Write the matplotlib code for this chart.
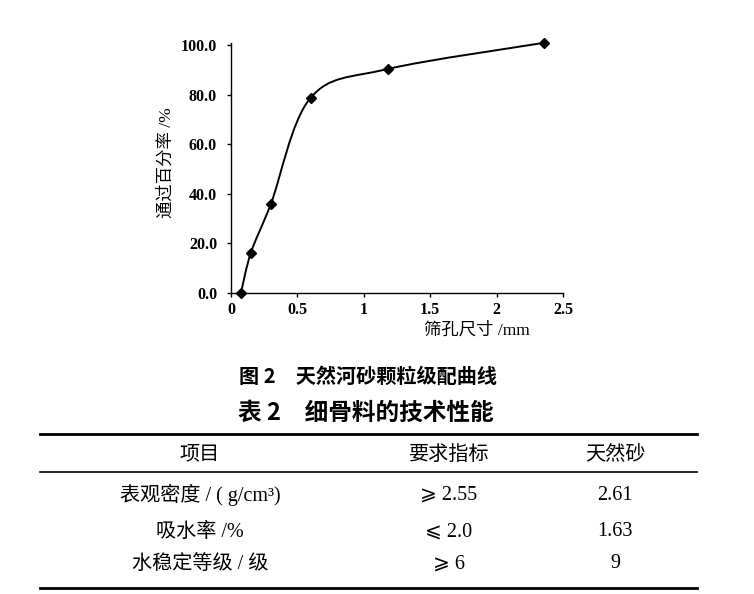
import numpy as np
import matplotlib
matplotlib.use("Agg")
import matplotlib.pyplot as plt
from matplotlib.path import Path
from matplotlib.patches import PathPatch
from matplotlib.lines import Line2D

plt.rcParams['font.family'] = ['Liberation Serif', 'Noto Sans CJK SC', 'DejaVu Sans']

# 筛孔尺寸 / 通过百分率
sieve_mm = [0.075, 0.15, 0.3, 0.6, 1.18, 2.36]
passing = [0.0, 16.2, 35.8, 78.7, 90.3, 100.9]
x_ticks = [0, 0.5, 1, 1.5, 2, 2.5]
x_tick_labels = ['0', '0.5', '1', '1.5', '2', '2.5']
y_ticks = [0, 20, 40, 60, 80, 100]

# 表2
table_header = ['项目', '要求指标', '天然砂']
table_items = ['表观密度 / ( g/cm³)', '吸水率 /%', '水稳定等级 / 级']
table_required = ['⩾ 2.55', '⩽ 2.0', '⩾ 6']
table_natural = ['2.61', '1.63', '9']

W, H = 754, 594
fig = plt.figure(figsize=(W / 100, H / 100), dpi=100)


def fx(px):
    return px / W


def fy(py):
    return 1 - py / H


ax = fig.add_axes([fx(231), fy(292.7), fx(563) - fx(231), fy(42.5) - fy(292.7)])

# smooth curve (Catmull-Rom bezier, like a spreadsheet "smoothed line")
pts = np.column_stack([sieve_mm, passing])
verts = [pts[0]]
codes = [Path.MOVETO]
n = len(pts)
for i in range(n - 1):
    p0 = pts[max(i - 1, 0)]
    p1 = pts[i]
    p2 = pts[i + 1]
    p3 = pts[min(i + 2, n - 1)]
    verts += [p1 + (p2 - p0) / 6, p2 - (p3 - p1) / 6, p2]
    codes += [Path.CURVE4] * 3
ax.add_patch(PathPatch(Path(verts, codes), fill=False, edgecolor='black',
                       lw=1.4, clip_on=False, zorder=3))
ax.plot(sieve_mm, passing, linestyle='none', marker='D', markersize=5,
        color='black', clip_on=False, zorder=4)

ax.set_xlim(0, 2.5)
ax.set_ylim(0, 101)
ax.set_xticks(x_ticks)
ax.set_xticklabels(x_tick_labels)
ax.set_yticks(y_ticks)
ax.set_yticklabels([f'{v:.1f}' for v in y_ticks])
for s in ['top', 'right']:
    ax.spines[s].set_visible(False)
for s in ['left', 'bottom']:
    ax.spines[s].set_linewidth(1.0)
ax.tick_params(axis='both', direction='out', length=3, width=1, labelsize=11.5)
ax.tick_params(axis='y', pad=7)
ax.tick_params(axis='x', pad=4)
for lab in ax.get_xticklabels() + ax.get_yticklabels():
    lab.set_fontweight('bold')

ax.set_xlabel('筛孔尺寸 /mm', fontsize=12.5)
ax.xaxis.set_label_coords((477 - 231) / 332, -(330 - 292.7) / 250.2)
ax.set_ylabel('通过百分率 /%', fontsize=12.5)
ax.yaxis.set_label_coords(-(231 - 167) / 332, (292.7 - 163) / 250.2)
ax.xaxis.label.set_va('center')
ax.yaxis.label.set_va('center')

# captions
fig.text(fx(368), fy(376), '图 2\u3000天然河砂颗粒级配曲线', ha='center', va='center',
         fontsize=14.5, fontweight='bold', family=['Noto Sans CJK SC'])
fig.text(fx(366), fy(413), '表 2\u3000细骨料的技术性能', ha='center', va='center',
         fontsize=17, fontweight='bold', family=['Noto Sans CJK SC'])

# table rules
for y, lw in [(434, 2.0), (472, 1.2), (588, 2.0)]:
    fig.add_artist(Line2D([fx(40), fx(697)], [fy(y), fy(y)], color='black', lw=lw,
                          transform=fig.transFigure))

col_x = [200, 449, 615]
fs = 14.5
for cx, txt in zip(col_x, table_header):
    fig.text(fx(cx), fy(455), txt, ha='center', va='center', fontsize=fs)
row_y = [495, 532, 564]
for ry, a, b, c in zip(row_y, table_items, table_required, table_natural):
    fig.text(fx(col_x[0]), fy(ry), a, ha='center', va='center', fontsize=fs)
    fig.text(fx(col_x[1]), fy(ry), b, ha='center', va='center', fontsize=fs)
    fig.text(fx(col_x[2]), fy(ry), c, ha='center', va='center', fontsize=fs)

fig.savefig('out.png', dpi=100)
